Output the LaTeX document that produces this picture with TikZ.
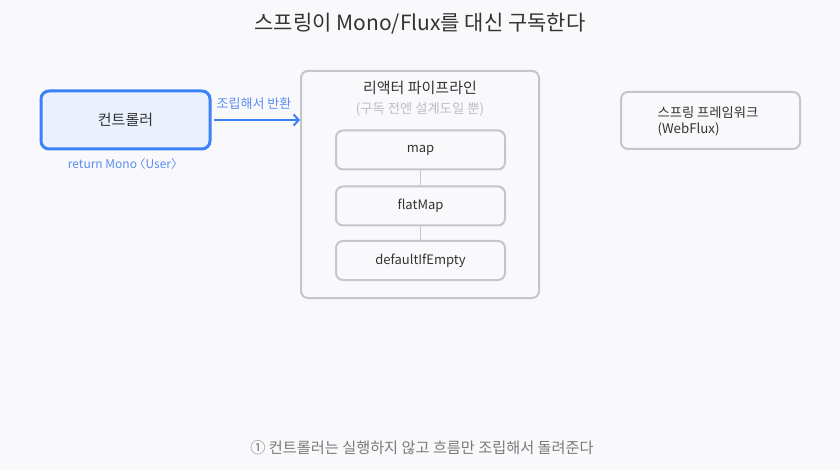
\documentclass[tikz,border=0pt]{standalone}
\usepackage{fontspec}
\setmainfont{Noto Sans CJK KR}
\usetikzlibrary{arrows.meta,positioning}

\begin{document}
\begin{tikzpicture}[x=1pt,y=-1pt]
\definecolor{bgcol}{HTML}{F9F9FC}
\definecolor{txtdark}{HTML}{333333}
\definecolor{ctrlblue}{HTML}{3B82F6}
\definecolor{ctrlfill}{HTML}{EAF1FD}
\definecolor{lblblue}{HTML}{5B8DEF}
\definecolor{boxgray}{HTML}{C4C6CC}
\definecolor{subgray}{HTML}{BDBDC4}
\definecolor{notegray}{HTML}{7A7A7A}

\tikzset{
  graybox/.style={draw=boxgray,line width=2pt,rounded corners=7pt,fill=bgcol},
  opbox/.style={graybox,minimum width=169pt,minimum height=39pt,
    font=\fontsize{13}{15}\selectfont,text=txtdark},
  link/.style={draw=boxgray,line width=1.6pt}
}

\useasboundingbox[fill=bgcol] (0,0) rectangle (840,470);

\node[font=\fontsize{21}{25}\selectfont,text=txtdark] (title) at (420,24) {스프링이 Mono/Flux를 대신 구독한다};

% controller
\node[draw=ctrlblue,fill=ctrlfill,line width=3pt,rounded corners=8pt,
  minimum width=169pt,minimum height=58pt,
  font=\fontsize{15}{18}\selectfont,text=txtdark] (ctrl) at (125.5,120) {컨트롤러};
\node[font=\fontsize{12}{14}\selectfont,text=lblblue] (ret) at (125.5,164) {return Mono\kern-3.5pt〈User〉};

% pipeline
\node[graybox,minimum width=238pt,minimum height=227pt] (pipe) at (420,184.5) {};
\node[font=\fontsize{15}{18}\selectfont,text=txtdark] (pipetitle) at (420,88) {리액터 파이프라인};
\node[font=\fontsize{13.3}{16}\selectfont,text=subgray] (pipesub) at (420,109) {(구독 전엔 설계도일 뿐)};

\node[opbox] (map) at (420.5,150) {map};
\node[opbox] (flat) at (420.5,206) {flatMap};
\node[opbox] (dflt) at (420.5,260.5) {defaultIfEmpty};
\draw[link] (map) -- (flat);
\draw[link] (flat) -- (dflt);

\draw[ctrlblue,line width=2pt,-{Straight Barb[length=5pt,width=11pt]}] (ctrl.east) ++(2,0) coordinate (a0) -- (a0 -| pipe.west);
\node[font=\fontsize{13}{15}\selectfont,text=lblblue] (asm) at (254,104) {조립해서 반환};

% framework
\node[graybox,minimum width=179pt,minimum height=57pt] (spring) at (710.5,120.5) {};
\node[font=\fontsize{13.3}{16}\selectfont,text=txtdark,align=left,anchor=west] (springtxt) at (654,121) {스프링 프레임워크\\(WebFlux)};

\node[font=\fontsize{15.2}{18}\selectfont,text=notegray] (note) at (422,448) {① 컨트롤러는 실행하지 않고 흐름만 조립해서 돌려준다};
\end{tikzpicture}
\end{document}
